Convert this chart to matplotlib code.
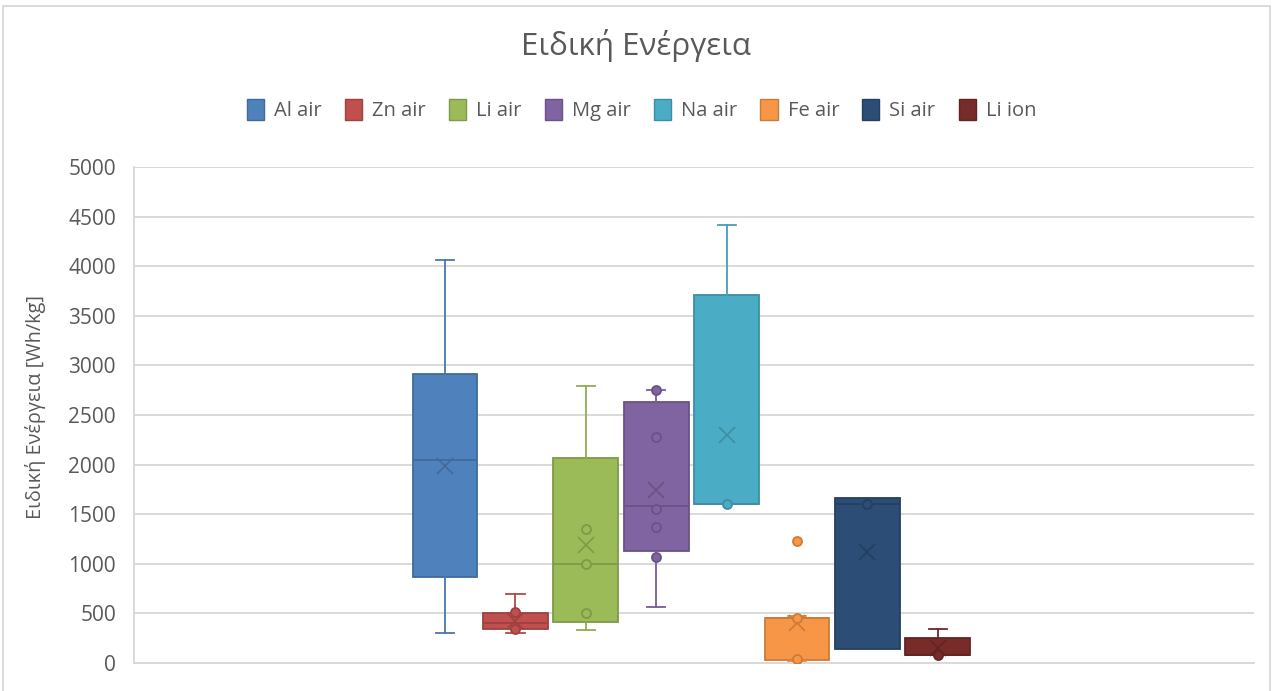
import matplotlib
matplotlib.use("Agg")
import matplotlib.pyplot as plt
from matplotlib.patches import Patch, Rectangle
from matplotlib.colors import to_rgb

plt.rcParams['font.family'] = ['Open Sans', 'DejaVu Sans']

# Specific energy of battery chemistries (Wh/kg): box & whisker summary statistics
series = ["Al air", "Zn air", "Li air", "Mg air", "Na air", "Fe air", "Si air", "Li ion"]
whislo = [300, 299, 333, 568, 1600, 20, 138, 80]
q1 = [864, 343, 417, 1132, 1600, 35, 138, 80]
median = [2046, 400, 998, 1586, 1600, 457, 1603, 80]
q3 = [2910, 507, 2063, 2634, 3710, 457, 1660, 252]
whishi = [4062, 696, 2792, 2752, 4415, 470, 1660, 343]
mean = [1986, 427, 1190, 1740, 2298, 400, 1122, 150]
points = [
    [],
    [511, 343],
    [1348, 998, 501],
    [2752, 2281, 1549, 1374, 1065],
    [1600],
    [457, 45, 1233],
    [1603],
    [85],
]
colors = ["#4F81BD", "#C0504D", "#9BBB59", "#8064A2",
          "#4BACC6", "#F79646", "#2C4D75", "#772C2A"]
yticks = [0, 500, 1000, 1500, 2000, 2500, 3000, 3500, 4000, 4500, 5000]


def shade(c, f):
    r, g, b = to_rgb(c)
    return (r * f, g * f, b * f)


W, H = 1272, 691
fig = plt.figure(figsize=(W / 100, H / 100), dpi=100)
ax = fig.add_axes([134 / W, 1 - 663 / H, 1120 / W, 496 / H])

text_gray = "#595959"
grid_gray = "#D9D9D9"

positions = list(range(1, len(series) + 1))
for i, name in enumerate(series):
    c = colors[i]
    edge = shade(c, 0.82)
    stats = [dict(med=median[i], q1=q1[i], q3=q3[i], whislo=whislo[i],
                  whishi=whishi[i], mean=mean[i], fliers=[], label=name)]
    art = ax.bxp(stats, positions=[positions[i]], widths=0.92, capwidths=0.26,
                 patch_artist=True, showmeans=True, showfliers=False,
                 boxprops=dict(facecolor=c, edgecolor=edge, linewidth=1.3),
                 medianprops=dict(color=edge, linewidth=1.3),
                 whiskerprops=dict(color=shade(c, 0.92), linewidth=1.3),
                 capprops=dict(color=shade(c, 0.92), linewidth=1.3),
                 meanprops=dict(marker="x", markersize=11, markeredgecolor=edge,
                                markeredgewidth=1.2, linestyle="none"),
                 zorder=3)
    # hide zero-length whiskers and their caps
    if whislo[i] == q1[i]:
        art["whiskers"][0].set_visible(False)
        art["caps"][0].set_visible(False)
    if whishi[i] == q3[i]:
        art["whiskers"][1].set_visible(False)
        art["caps"][1].set_visible(False)
    if points[i]:
        ax.plot([positions[i]] * len(points[i]), points[i], linestyle="none",
                marker="o", markersize=6.5, markerfacecolor=c,
                markeredgecolor=edge, markeredgewidth=1.3, zorder=4)

ax.set_xlim(-3.418, 12.49)
ax.set_ylim(0, 5000)
ax.set_yticks(yticks)
ax.set_yticklabels([str(t) for t in yticks])
ax.set_xticks([])
ax.yaxis.grid(True, color=grid_gray, linewidth=1.4, zorder=0)
ax.set_axisbelow(True)
ax.tick_params(axis="y", length=0, pad=13, labelsize=15, labelcolor=text_gray)
for s in ["top", "right"]:
    ax.spines[s].set_visible(False)
for s in ["left", "bottom"]:
    ax.spines[s].set_color(grid_gray)
    ax.spines[s].set_linewidth(1.4)

ax.set_ylabel("Ειδική Ενέργεια [Wh/kg]", fontsize=14.3, color=text_gray)
ax.yaxis.set_label_coords((46 - 134) / 1120, (663 - 407) / 496)

fig.text(0.5, 1 - 45 / H, "Ειδική Ενέργεια", ha="center", va="center",
         fontsize=22.5, color=text_gray)

handles = [Patch(facecolor=colors[i], edgecolor=shade(colors[i], 0.82), linewidth=1.0)
           for i in range(len(series))]
fig.legend(handles, series, loc="center", bbox_to_anchor=(0.5045, 1 - 110 / H), ncol=8,
           frameon=False, fontsize=14.5, labelcolor=text_gray, handlelength=0.85,
           handleheight=1.2, handletextpad=0.5, columnspacing=1.15)

# chart border
fig.add_artist(Rectangle((3 / W, -0.01), 1267 / W, 1 - 6 / H + 0.01,
                         transform=fig.transFigure, fill=False,
                         edgecolor=grid_gray, linewidth=1.3))

fig.savefig("out.png", dpi=100)
